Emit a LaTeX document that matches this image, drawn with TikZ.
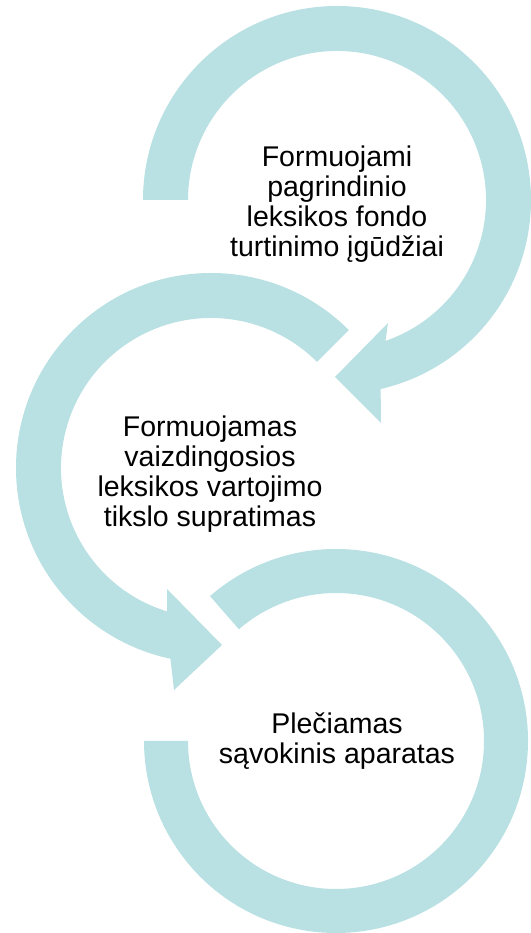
\documentclass[tikz,border=0pt]{standalone}
\usepackage{fontspec}
\setmainfont{Liberation Sans}
\usetikzlibrary{positioning,calc}

\definecolor{ringteal}{RGB}{185,224,227}

\begin{document}
\begin{tikzpicture}[x=1pt,y=1pt,
  ring/.style={fill=ringteal},
  label/.style={align=center,inner sep=0pt,font=\fontsize{28.5}{30}\selectfont}]

\useasboundingbox (0,0) rectangle (530,933);

% ring centres
\coordinate (c1) at (337,733);
\coordinate (c2) at (211,465);
\coordinate (c3) at (336,192);

% arrow heads
\coordinate (h1a) at (388,610);
\coordinate (h1t) at (335,556);
\coordinate (h1b) at (381,510);
\coordinate (h2a) at (167,344);
\coordinate (h2t) at (222,288);
\coordinate (h2b) at (174,243);

% top ring
\fill[ring] ([shift={(180:194pt)}]c1) arc[start angle=180, end angle=-77, radius=194pt]
  -- (h1b) -- (h1t) -- (h1a)
  -- ([shift={(-71:149pt)}]c1) arc[start angle=-71, end angle=180, radius=149pt] -- cycle;

% middle ring
\fill[ring] ([shift={(45:195pt)}]c2) arc[start angle=45, end angle=258, radius=195pt]
  -- (h2b) -- (h2t) -- (h2a)
  -- ([shift={(253:150pt)}]c2) arc[start angle=253, end angle=45, radius=150pt] -- cycle;

% bottom ring
\fill[ring] ([shift={(131:192pt)}]c3) arc[start angle=131, end angle=-180, radius=192pt]
  -- ([shift={(-180:148pt)}]c3) arc[start angle=-180, end angle=131, radius=148pt] -- cycle;

\node[label] (lbl1) at (337,729) {Formuojami\\pagrindinio\\leksikos fondo\\turtinimo įgūdžiai};
\node[label] (lbl2) at (210,459) {Formuojamas\\vaizdingosios\\leksikos vartojimo\\tikslo supratimas};
\node[label] (lbl3) at (337,192) {Plečiamas\\sąvokinis aparatas};

\end{tikzpicture}
\end{document}
